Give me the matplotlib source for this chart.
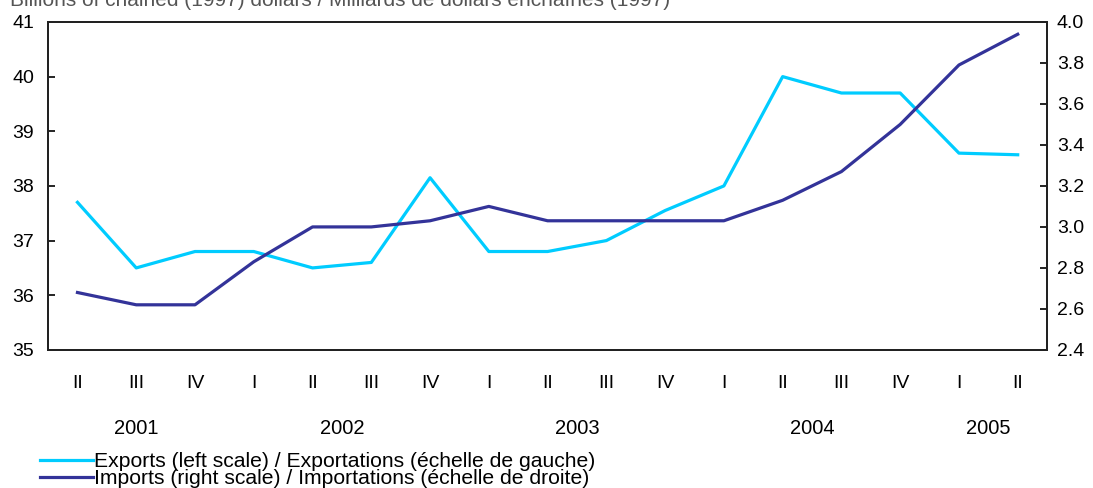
import matplotlib
matplotlib.use("Agg")
import matplotlib.pyplot as plt
from matplotlib.lines import Line2D
from matplotlib.transforms import blended_transform_factory

plt.rcParams["font.family"] = ["Liberation Sans", "DejaVu Sans"]

quarters = ["II", "III", "IV", "I", "II", "III", "IV", "I", "II", "III", "IV",
            "I", "II", "III", "IV", "I", "II"]
years = ["2001", "2002", "2003", "2004", "2005"]
year_centers = [1, 4.5, 8.5, 12.5, 15.5]

# billions of chained (1997) dollars
exports = [37.7, 36.5, 36.8, 36.8, 36.5, 36.6, 38.15, 36.8, 36.8, 37.0, 37.55,
           38.0, 40.0, 39.7, 39.7, 38.6, 38.57]
imports = [2.68, 2.62, 2.62, 2.83, 3.0, 3.0, 3.03, 3.10, 3.03, 3.03, 3.03,
           3.03, 3.13, 3.27, 3.50, 3.79, 3.94]

export_color = "#00ccff"
import_color = "#333399"


def main():
    fig = plt.figure(figsize=(10.93, 4.88), dpi=100)
    ax = fig.add_axes([0.044, 0.283, 0.914, 0.672])
    ax2 = ax.twinx()

    x = range(len(quarters))
    ax.plot(x, exports, color=export_color, lw=2.3, zorder=3)
    ax2.plot(x, imports, color=import_color, lw=2.3, zorder=3)

    ax.set_xlim(-0.5, 16.5)
    ax.set_ylim(35, 41)
    ax2.set_ylim(2.4, 4.0)
    ax.set_yticks(range(35, 42))
    ax2.set_yticks([2.4 + 0.2 * i for i in range(9)])
    ax2.set_yticklabels([f"{2.4 + 0.2 * i:.1f}" for i in range(9)])

    ax.set_xticks(list(x))
    ax.set_xticklabels(quarters)
    ax.tick_params(axis="x", length=0, pad=18, labelsize=14)
    ax.tick_params(axis="y", direction="in", length=5, width=1.2,
                   pad=10, labelsize=14)
    ax2.tick_params(axis="y", direction="in", length=5, width=1.2,
                    pad=7, labelsize=14)

    for a in (ax, ax2):
        for s in a.spines.values():
            s.set_linewidth(1.4)
            s.set_color("#222222")

    trans = blended_transform_factory(ax.transData, fig.transFigure)
    for yr, c in zip(years, year_centers):
        ax.text(c, 1 - 428 / 488, yr, transform=trans, ha="center",
                va="center", fontsize=14.5)

    fig.text(0.009, 1.0, "Billions of chained (1997) dollars / "
             "Milliards de dollars enchaînés (1997)",
             ha="left", va="center", fontsize=15, color="#555555")

    handles = [Line2D([], [], color=export_color, lw=2.3),
               Line2D([], [], color=import_color, lw=2.3)]
    labels = ["Exports (left scale) / Exportations (échelle de gauche)",
              "Imports (right scale) / Importations (échelle de droite)"]
    fig.legend(handles, labels, loc="upper left",
               bbox_to_anchor=(0.037, 1 - 452 / 488), frameon=False,
               fontsize=15.2, handlelength=2.5, handletextpad=0.05,
               labelspacing=-0.08, borderaxespad=0, borderpad=0)

    fig.savefig("out.png", dpi=100)


if __name__ == "__main__":
    main()
